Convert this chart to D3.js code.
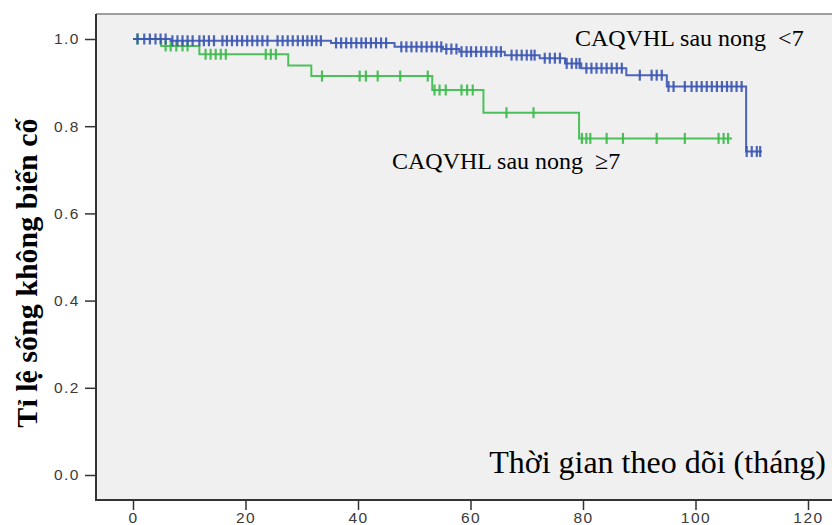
<!DOCTYPE html>
<html><head><meta charset="utf-8">
<script src="https://cdn.jsdelivr.net/npm/d3@7"></script>
<style>
html,body{margin:0;padding:0;background:#fff;overflow:hidden;}
svg{display:block;}
</style></head>
<body>
<svg id="c" width="832" height="525"></svg>
<script>
// ---- data ----
const xTicks = [0, 20, 40, 60, 80, 100, 120];
const yTicks = [0.0, 0.2, 0.4, 0.6, 0.8, 1.0];

// group "<7" (blue): step times and survival after each step
const blueStepTimes = [0, 6.7, 35.2, 46.5, 55.1, 58, 66.1, 72.3, 76.8, 79.7, 87.7, 94.9, 109];
const blueSurv      = [1, 0.996, 0.991, 0.982, 0.977, 0.971, 0.963, 0.956, 0.944, 0.933, 0.917, 0.891, 0.742];
const blueEnd = 111.8;
const blueCensor = [0.8, 2.0, 3.0, 4.0, 4.9, 5.8, 7.0, 7.9, 8.8, 9.7, 10.6, 11.8, 12.6, 13.5, 14.4,
  15.9, 16.7, 17.6, 18.5, 19.4, 20.3, 21.2, 22.1, 23.0, 23.9, 25.7, 26.6, 27.5, 28.4, 29.3, 30.2,
  31.0, 31.8, 32.6, 33.4, 36.1, 37.0, 37.9, 38.8, 39.7, 40.6, 41.4, 42.3, 43.2, 44.1, 45.0,
  47.7, 48.6, 49.5, 50.4, 51.3, 52.2, 53.1, 54.0, 54.8, 55.7, 56.6, 57.5, 58.4, 59.3, 60.1,
  61.0, 61.9, 62.8, 63.7, 64.6, 65.4, 67.3, 68.2, 69.1, 70.0, 70.8, 71.4, 73.2, 74.1, 75.0, 75.9,
  77.1, 78.0, 78.8, 79.4, 80.6, 81.5, 82.4, 83.3, 84.2, 85.1, 86.0, 86.9, 90.1, 92.2, 93.1, 94.0,
  95.2, 96.1, 98.1, 99.3, 100.2, 101.1, 102.0, 102.9, 103.8, 104.7, 105.6, 106.4, 107.3, 108.2,
  109.1, 110.0, 110.9, 111.5];

// group ">=7" (green)
const greenStepTimes = [0, 5, 11.8, 27.6, 31.7, 53.2, 62.3, 79.3];
const greenSurv      = [1, 0.984, 0.965, 0.939, 0.915, 0.883, 0.831, 0.772];
const greenEnd = 106.5;
const greenCensor = [0.8, 5.8, 6.7, 7.7, 8.8, 9.7, 12.9, 13.8, 14.7, 15.6, 16.5, 23.6, 24.5, 25.4,
  33.6, 40.3, 41.4, 43.5, 47.5, 52.4, 53.6, 54.5, 55.6, 58.4, 59.4, 60.4, 66.4, 71.2,
  79.8, 80.6, 81.3, 84.2, 87.1, 93.1, 98.1, 104.1, 105.0, 105.8];

const labelBlue = "CAQVHL sau nong  <7";
const labelGreen = "CAQVHL sau nong  \u22657";
const xTitle = "Thời gian theo dõi (tháng)";
const yTitle = "Tỉ lệ sống không biến cố";

// ---- layout ----
const svg = d3.select("#c");
const frame = {left: 96, top: 14, right: 860, bottom: 500};
const x = d3.scaleLinear().domain([0, 120]).range([133, 808]);
const y = d3.scaleLinear().domain([0, 1]).range([475, 39]);

svg.append("rect").attr("x", frame.left).attr("y", frame.top)
  .attr("width", frame.right - frame.left).attr("height", frame.bottom - frame.top)
  .attr("fill", "#f0f0f0");

svg.append("line").attr("x1", frame.left).attr("x2", frame.right).attr("y1", frame.top).attr("y2", frame.top)
  .attr("stroke", "#808080").attr("stroke-width", 1.5);

// axes
const xAxis = svg.append("g").attr("transform", `translate(0,${frame.bottom})`)
  .call(d3.axisBottom(x).tickValues(xTicks).tickFormat(d3.format("d")).tickSize(10).tickPadding(2));
const yAxis = svg.append("g").attr("transform", `translate(${frame.left},0)`)
  .call(d3.axisLeft(y).tickValues(yTicks).tickFormat(d3.format(".1f")).tickSize(11).tickPadding(5));
[xAxis, yAxis].forEach(g => {
  g.select(".domain").remove();
  g.selectAll(".tick line").attr("stroke", "#333").attr("stroke-width", 1.5);
  g.selectAll(".tick text").attr("fill", "#3a3a3a")
    .style("font-family", "'Liberation Sans', Arial, sans-serif").style("font-size", "15.5px")
    .style("letter-spacing", "1.5px");
});
svg.append("line").attr("x1", frame.left).attr("x2", frame.left).attr("y1", frame.top).attr("y2", frame.bottom + 1)
  .attr("stroke", "#333").attr("stroke-width", 2);
svg.append("line").attr("x1", frame.left - 1).attr("x2", frame.right).attr("y1", frame.bottom).attr("y2", frame.bottom)
  .attr("stroke", "#333").attr("stroke-width", 2);

// curves
function drawKM(times, surv, end, censor, color) {
  const pts = times.map((t, i) => [t, surv[i]]);
  pts.push([end, surv[surv.length - 1]]);
  const line = d3.line().x(d => x(d[0])).y(d => y(d[1])).curve(d3.curveStepAfter);
  svg.append("path").datum(pts).attr("d", line).attr("fill", "none")
    .attr("stroke", color).attr("stroke-width", 2).attr("stroke-opacity", 0.9);
  const survAt = t => { let s = surv[0]; times.forEach((tt, i) => { if (tt <= t) s = surv[i]; }); return s; };
  svg.append("g").selectAll("line").data(censor).join("line")
    .attr("x1", d => x(d)).attr("x2", d => x(d))
    .attr("y1", d => y(survAt(d)) - 5.5).attr("y2", d => y(survAt(d)) + 5.5)
    .attr("stroke", color).attr("stroke-width", 2.2).attr("stroke-opacity", 0.9);
}
drawKM(greenStepTimes, greenSurv, greenEnd, greenCensor, "#3cba4a");
drawKM(blueStepTimes, blueSurv, blueEnd, blueCensor, "#3a55b2");

// labels
const serif = "'Liberation Serif', 'Times New Roman', serif";
svg.append("text").attr("x", 575).attr("y", 46).text(labelBlue)
  .style("font-family", serif).style("font-size", "24px").style("white-space", "pre").attr("fill", "#000");
svg.append("text").attr("x", 392).attr("y", 169).text(labelGreen)
  .style("font-family", serif).style("font-size", "24px").style("white-space", "pre").attr("fill", "#000");
svg.append("text").attr("x", 826).attr("y", 473).attr("text-anchor", "end").text(xTitle)
  .style("font-family", serif).style("font-size", "32px").attr("fill", "#000");
svg.append("text").attr("transform", "translate(37,273) rotate(-90)").attr("text-anchor", "middle").text(yTitle)
  .style("font-family", serif).style("font-size", "30px").style("font-weight", "bold").attr("fill", "#000");
</script>
</body></html>
